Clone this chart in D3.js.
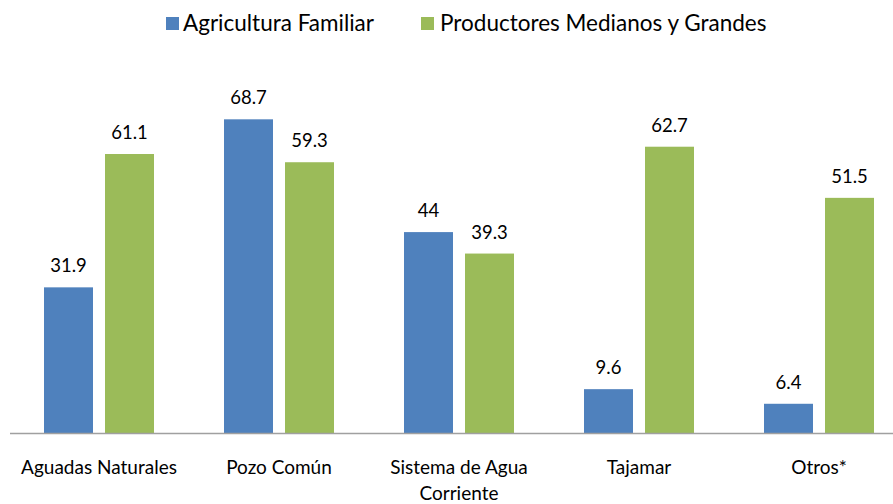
<!DOCTYPE html>
<html>
<head>
<meta charset="utf-8">
<script src="https://cdn.jsdelivr.net/npm/d3@7"></script>
<style>
  html, body { margin: 0; padding: 0; background: #fff; }
  svg { display: block; }
  text { font-family: Lato, "Open Sans", sans-serif; fill: #000; }
</style>
</head>
<body>
<svg id="chart" width="893" height="504"></svg>
<script>
const categories = ["Aguadas Naturales", "Pozo Común", "Sistema de Agua Corriente", "Tajamar", "Otros*"];
const categoryLines = [["Aguadas Naturales"], ["Pozo Común"], ["Sistema de Agua", "Corriente"], ["Tajamar"], ["Otros*"]];
const seriesNames = ["Agricultura Familiar", "Productores Medianos y Grandes"];
const agriculturaFamiliar = [31.9, 68.7, 44, 9.6, 6.4];
const productoresMedianosGrandes = [61.1, 59.3, 39.3, 62.7, 51.5];
const valueLabels = [["31.9", "68.7", "44", "9.6", "6.4"], ["61.1", "59.3", "39.3", "62.7", "51.5"]];
const colors = ["#4F81BD", "#9BBB59"];

const seriesValues = [agriculturaFamiliar, productoresMedianosGrandes];

const svg = d3.select("#chart");

const baseline = 433;
const x = d3.scaleBand().domain(categories).range([9, 909]).paddingInner(0).paddingOuter(0);
const xInner = d3.scaleBand().domain(seriesNames).range([35, 145]).paddingInner(0.197).paddingOuter(0);
const y = d3.scaleLinear().domain([0, 80]).range([baseline, baseline - 4.566 * 80]);

// Bars
seriesNames.forEach((s, si) => {
  const g = svg.append("g");
  const rows = categories.map((c, i) => ({ c, v: seriesValues[si][i], label: valueLabels[si][i] }));
  g.selectAll("rect")
    .data(rows)
    .join("rect")
    .attr("x", d => x(d.c) + xInner(s))
    .attr("y", d => y(d.v))
    .attr("width", xInner.bandwidth())
    .attr("height", d => y(0) - y(d.v))
    .attr("fill", colors[si]);
  g.selectAll("text")
    .data(rows)
    .join("text")
    .attr("x", d => x(d.c) + xInner(s) + xInner.bandwidth() / 2)
    .attr("y", d => y(d.v) - 15)
    .attr("text-anchor", "middle")
    .style("font-size", "18.5px")
    .text(d => d.label);
});

// Axis line
const axis = d3.axisBottom(x).tickSize(0).tickFormat("");
const axisG = svg.append("g").attr("transform", `translate(0,${baseline})`).call(axis);
axisG.select(".domain").attr("stroke", "#A0A0A0").attr("stroke-width", 1.3)
  .attr("d", "M10,0.5H893");

// Category labels
categories.forEach((c, i) => {
  const t = svg.append("text")
    .attr("x", x(c) + x.bandwidth() / 2)
    .attr("y", 474)
    .attr("text-anchor", "middle")
    .style("font-size", "19px");
  categoryLines[i].forEach((line, li) => {
    t.append("tspan")
      .attr("x", x(c) + x.bandwidth() / 2)
      .attr("dy", li === 0 ? 0 : 26)
      .text(line);
  });
});

// Legend
const legendPos = [{ sx: 166, tx: 183 }, { sx: 421, tx: 440 }];
seriesNames.forEach((s, si) => {
  svg.append("rect")
    .attr("x", legendPos[si].sx).attr("y", 17)
    .attr("width", 13).attr("height", 13)
    .attr("fill", colors[si]);
  svg.append("text")
    .attr("x", legendPos[si].tx).attr("y", 31)
    .style("font-size", "22.5px")
    .text(s);
});
</script>
</body>
</html>
